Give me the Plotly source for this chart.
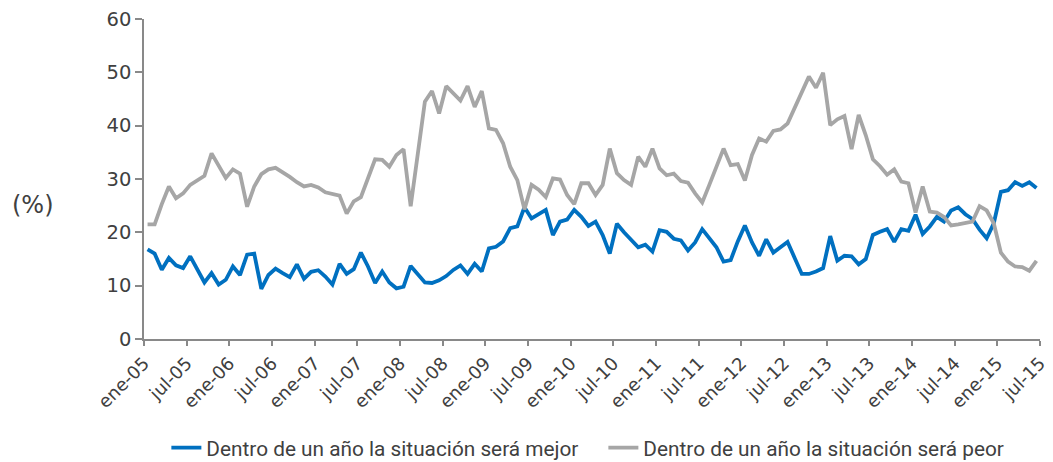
import numpy as np
import plotly.graph_objects as go

tick_labels = ["ene-05", "jul-05", "ene-06", "jul-06", "ene-07", "jul-07", "ene-08", "jul-08",
               "ene-09", "jul-09", "ene-10", "jul-10", "ene-11", "jul-11", "ene-12", "jul-12",
               "ene-13", "jul-13", "ene-14", "jul-14", "ene-15", "jul-15"]

mejor = [16.8, 16.0, 13.0, 15.2, 13.8, 13.3, 15.5, 13.0, 10.6, 12.35, 10.2, 11.1,
         13.6, 12.0, 15.8, 16.0, 9.4, 12.0, 13.2, 12.35, 11.6, 14.0, 11.3, 12.6,
         12.9, 11.7, 10.2, 14.1, 12.2, 13.1, 16.2, 13.6, 10.5, 12.65, 10.6, 9.5,
         9.8, 13.7, 12.2, 10.6, 10.5, 11.0, 11.8, 12.95, 13.8, 12.2, 14.1, 12.65,
         17.0, 17.3, 18.3, 20.8, 21.1, 24.7, 22.6, 23.4, 24.2, 19.5, 22.0, 22.4,
         24.2, 22.9, 21.2, 22.0, 19.5, 16.0, 21.6, 20.0, 18.5, 17.2, 17.7, 16.4,
         20.4, 20.1, 18.8, 18.5, 16.6, 18.1, 20.6, 18.9, 17.2, 14.5, 14.8, 18.3,
         21.3, 18.1, 15.6, 18.7, 16.2, 17.2, 18.2, 15.2, 12.2, 12.2, 12.65, 13.3,
         19.3, 14.7, 15.6, 15.5, 14.0, 15.0, 19.5, 20.1, 20.6, 18.2, 20.6, 20.3,
         23.3, 19.7, 21.1, 22.9, 22.0, 24.1, 24.7, 23.4, 22.5, 20.5, 18.9, 21.7,
         27.6, 27.9, 29.4, 28.7, 29.4, 28.3]

peor = [21.5, 21.5, 25.3, 28.6, 26.4, 27.3, 28.9, 29.7, 30.6, 34.8, 32.6, 30.2,
        31.8, 31.0, 24.8, 28.6, 30.9, 31.8, 32.1, 31.3, 30.4, 29.4, 28.6, 28.9,
        28.4, 27.5, 27.2, 26.9, 23.5, 25.8, 26.6, 30.1, 33.7, 33.6, 32.3, 34.5,
        35.6, 24.9, 34.5, 44.5, 46.5, 42.3, 47.4, 46.0, 44.7, 47.4, 43.5, 46.5,
        39.5, 39.2, 36.7, 32.3, 29.8, 24.3, 28.9, 28.0, 26.6, 30.1, 29.9, 27.0,
        25.3, 29.2, 29.2, 27.0, 28.9, 35.7, 31.1, 29.8, 28.9, 34.2, 32.3, 35.7,
        32.0, 30.7, 31.0, 29.6, 29.3, 27.3, 25.6, 28.9, 32.4, 35.7, 32.6, 32.8,
        29.7, 34.5, 37.6, 37.0, 39.0, 39.3, 40.4, 43.2, 46.0, 49.2, 47.1, 49.9,
        40.1, 41.2, 41.8, 35.6, 42.0, 38.2, 33.7, 32.4, 30.8, 31.8, 29.5, 29.2,
        23.7, 28.6, 23.9, 23.7, 22.9, 21.3, 21.5, 21.8, 22.0, 24.9, 24.1, 21.7,
        16.2, 14.5, 13.6, 13.5, 12.8, 14.65]

series_names = ["Dentro de un año la situación será mejor",
                "Dentro de un año la situación será peor"]

n = len(mejor)
x = np.arange(n) + 0.5
tickvals = list(range(0, 6 * len(tick_labels), 6))

TXT = "#404040"
AX = "#898989"

fig = go.Figure()
fig.add_trace(go.Scatter(x=x, y=mejor, mode="lines", name=series_names[0],
                         line=dict(color="#0070C0", width=3.8)))
fig.add_trace(go.Scatter(x=x, y=peor, mode="lines", name=series_names[1],
                         line=dict(color="#A6A6A6", width=3.8)))

fig.update_layout(
    width=1053, height=462,
    margin=dict(l=144, r=13, t=19, b=123, autoexpand=False),
    paper_bgcolor="white", plot_bgcolor="white",
    font=dict(family="DejaVu Sans", color=TXT),
    showlegend=True,
    legend=dict(orientation="h", xref="container", yref="container",
                x=0.573, xanchor="center", y=0.03, yanchor="middle",
                font=dict(family="Roboto", size=20.8, color=TXT),
                itemwidth=30, tracegroupgap=0, entrywidth=392),
    annotations=[dict(text="(%)", xref="paper", yref="paper", x=-0.124, y=0.42,
                      xanchor="center", yanchor="middle", showarrow=False,
                      font=dict(family="DejaVu Sans", size=24, color=TXT))],
)
fig.update_xaxes(range=[0, tickvals[-1]], tickmode="array", tickvals=tickvals,
                 ticktext=tick_labels, tickangle=-45, showgrid=False, zeroline=False,
                 showline=True, linecolor=AX, linewidth=1.5, ticks="outside",
                 ticklen=5, tickcolor=AX, tickwidth=1.5, automargin=False,
                 tickfont=dict(family="DejaVu Sans", size=18, color=TXT))
fig.update_yaxes(range=[0, 60], dtick=10, showgrid=False, zeroline=False,
                 showline=True, linecolor=AX, linewidth=1.5, ticks="outside",
                 ticklen=7, tickcolor=AX, tickwidth=1.5, automargin=False,
                 ticklabelstandoff=0,
                 tickfont=dict(family="DejaVu Sans", size=19.5, color=TXT))

fig.write_html("out.html", config={"displayModeBar": False},
               post_script="document.body.style.margin='0';document.body.style.padding='0';")
